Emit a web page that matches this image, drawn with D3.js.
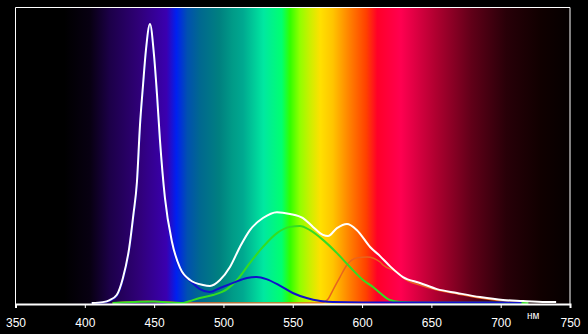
<!DOCTYPE html>
<html><head><meta charset="utf-8">
<script src="https://cdn.jsdelivr.net/npm/d3@7"></script>
<style>html,body{margin:0;padding:0;background:#000;}svg{display:block;}</style>
</head><body>
<svg id="c" width="588" height="334"></svg>
<script>
// Axis ticks
const tickLabels = [350, 400, 450, 500, 550, 600, 650, 700, 750];
const unitLabel = "нм";

// Spectrum background stops (wavelength nm, colour)
const spectrumNm = [350, 385, 404, 418, 440, 459, 466, 474, 483, 497, 507, 514, 529, 542, 548, 555, 562, 570, 579, 591, 603, 611, 628, 653, 679, 704, 729, 750];
const spectrumColor = ["#000000", "#000000", "#080012", "#1c0048", "#30007a", "#3a00b0", "#0020f0", "#0050b0", "#006890", "#008080", "#009c88", "#00a890", "#00e8a0", "#00ff70", "#30ff00", "#90ff00", "#c8f000", "#ffe000", "#ffc400", "#ff8000", "#ff4000", "#ff0028", "#ff0050", "#b00030", "#600018", "#280008", "#100000", "#050000"];

// Series: total (white)
const whiteNm = [405, 413, 418, 423, 427.5, 432, 435, 437.6, 439.8, 442, 444.1, 447, 449.9, 452.1, 454.2, 457.8, 462.9, 468.7, 475.9, 485.3, 490.3, 497.5, 504.7, 511.9, 519.1, 528.5, 538.6, 548, 557.4, 564.6, 571.8, 575.4, 581.9, 589.1, 596.3, 605.8, 613, 620.1, 629.5, 641.8, 654.1, 668.5, 685.1, 701.7, 716.1, 735.6, 740];
const whiteVal = [0.0, 0.003, 0.01, 0.027, 0.085, 0.186, 0.298, 0.41, 0.603, 0.739, 0.858, 0.946, 0.841, 0.705, 0.553, 0.356, 0.207, 0.119, 0.078, 0.061, 0.058, 0.078, 0.122, 0.19, 0.247, 0.288, 0.308, 0.302, 0.288, 0.258, 0.231, 0.227, 0.254, 0.268, 0.247, 0.19, 0.159, 0.125, 0.088, 0.068, 0.047, 0.034, 0.02, 0.01, 0.007, 0.003, 0.003];

// Series: blue
const blueNm = [405, 413, 418, 423, 427.5, 432, 435, 437.6, 439.8, 442, 444.1, 447, 449.9, 452.1, 454.2, 457.8, 462.9, 469, 471, 476, 483, 490, 497.5, 507, 517, 524, 531, 541, 550, 560, 570, 579, 600, 650, 700, 715];
const blueVal = [0.0, 0.002, 0.008, 0.024, 0.08, 0.18, 0.29, 0.4, 0.59, 0.73, 0.85, 0.94, 0.835, 0.7, 0.548, 0.35, 0.2, 0.11, 0.095, 0.075, 0.047, 0.037, 0.051, 0.068, 0.085, 0.088, 0.081, 0.058, 0.034, 0.017, 0.007, 0.003, 0.002, 0.002, 0.002, 0.001];

// Series: green
const greenNm = [420, 440, 450, 460, 471, 476, 483, 492.5, 502.6, 509.8, 519.1, 528.5, 538.6, 548, 555.2, 562.4, 571.8, 581.9, 591.3, 600.7, 607.9, 613, 620.1, 627.4, 641.8, 700, 720];
const greenVal = [0, 0.004, 0.005, 0.002, 0.0, 0.007, 0.017, 0.027, 0.047, 0.078, 0.136, 0.19, 0.237, 0.258, 0.261, 0.247, 0.214, 0.169, 0.122, 0.078, 0.054, 0.034, 0.01, 0.003, 0.001, 0.001, 0];

// Series: red
const redNm = [420, 445, 460, 480, 569.7, 574.8, 579, 584.1, 589.1, 596.3, 603.6, 613, 615.1, 625.2, 631, 641.8, 654.1, 668.5, 685.1, 701.7, 714];
const redVal = [0, 0.006, 0.003, 0, 0, 0.01, 0.044, 0.088, 0.129, 0.153, 0.156, 0.139, 0.129, 0.105, 0.081, 0.061, 0.044, 0.031, 0.017, 0.007, 0.003];

const svg = d3.select("#c");
const pLeft = 15.5, pRight = 570, pTop = 7.5, pBottom = 304;
const x = d3.scaleLinear().domain([350, 750]).range([pLeft, pRight]);
const y = d3.scaleLinear().domain([0, 1]).range([303, 8]);

const defs = svg.append("defs");
const grad = defs.append("linearGradient").attr("id", "spec")
  .attr("gradientUnits", "userSpaceOnUse")
  .attr("x1", x(350)).attr("x2", x(750)).attr("y1", 0).attr("y2", 0);
spectrumNm.forEach((nm, i) => {
  grad.append("stop").attr("offset", (x(nm) - x(350)) / (x(750) - x(350))).attr("stop-color", spectrumColor[i]);
});

svg.append("rect").attr("x", 0).attr("y", 0).attr("width", 588).attr("height", 334).attr("fill", "#000");
svg.append("rect").attr("x", pLeft).attr("y", pTop).attr("width", pRight - pLeft).attr("height", pBottom - pTop).attr("fill", "url(#spec)");

const line = d3.line().curve(d3.curveMonotoneX).x(d => x(d[0])).y(d => y(d[1]));
function draw(nm, val, color, w) {
  svg.append("path").datum(nm.map((n, i) => [n, val[i]]))
    .attr("d", line).attr("fill", "none").attr("stroke", color)
    .attr("stroke-width", w).attr("stroke-linejoin", "round");
}
draw(redNm, redVal, "#e8641e", 1.5);
draw(greenNm, greenVal, "#33dd22", 2);
draw(blueNm, blueVal, "#1010cc", 2);
draw(whiteNm, whiteVal, "#ffffff", 2);

// Frame
svg.append("line").attr("x1", pLeft).attr("x2", pLeft).attr("y1", pTop).attr("y2", pBottom).attr("stroke", "#fff").attr("stroke-width", 1);
svg.append("line").attr("x1", pRight).attr("x2", pRight).attr("y1", pTop).attr("y2", pBottom).attr("stroke", "#fff").attr("stroke-width", 1);
svg.append("line").attr("x1", pLeft).attr("x2", pRight).attr("y1", pTop).attr("y2", pTop).attr("stroke", "#fff").attr("stroke-width", 1);

const axis = d3.axisBottom(x).tickValues(tickLabels).tickSize(4).tickPadding(10).tickFormat(d3.format("d"));
const g = svg.append("g").attr("transform", `translate(0,${pBottom})`).call(axis);
g.select(".domain").attr("stroke", "#fff").attr("stroke-width", 2);
g.selectAll(".tick line").attr("stroke", "#fff");
g.selectAll(".tick text").attr("fill", "#fff").attr("font-family", "Liberation Sans, Arial, sans-serif").attr("font-size", 12);

svg.append("text").attr("x", 527).attr("y", 319).attr("fill", "#fff")
  .attr("font-family", "Liberation Sans, Arial, sans-serif").attr("font-size", 10).text(unitLabel);
</script>
</body></html>
